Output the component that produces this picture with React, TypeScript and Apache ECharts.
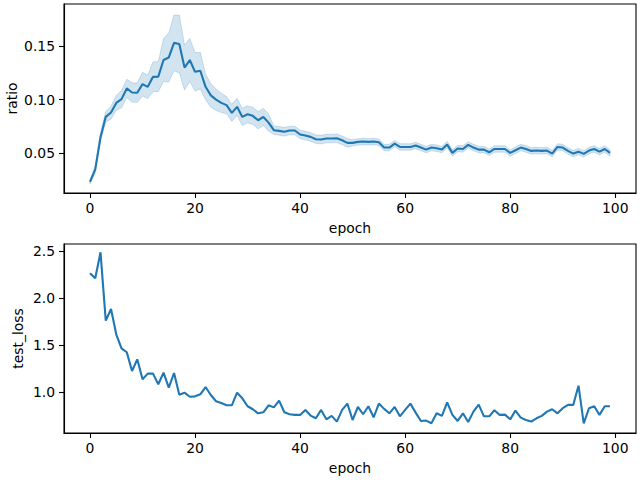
import React, { useEffect, useRef } from "react";
import * as echarts from "echarts";

const ratioMean = [
  0.0232, 0.035, 0.065, 0.084, 0.088, 0.097, 0.1005, 0.1105, 0.1067, 0.1065,
  0.1145, 0.112, 0.1213, 0.1215, 0.137, 0.1394, 0.153, 0.152, 0.13, 0.137,
  0.126, 0.127, 0.112, 0.104, 0.1, 0.097, 0.0949, 0.0877, 0.0933, 0.0839,
  0.0864, 0.0849, 0.0808, 0.0839, 0.0786, 0.0715, 0.0709, 0.07, 0.0712, 0.0712,
  0.0675, 0.0665, 0.0653, 0.0631, 0.0628, 0.0637, 0.0637, 0.064, 0.0621, 0.0597,
  0.0597, 0.0606, 0.061, 0.0606, 0.061, 0.0603, 0.0553, 0.0553, 0.059, 0.0559,
  0.0559, 0.0559, 0.0572, 0.0553, 0.0534, 0.0553, 0.0547, 0.0534, 0.0581, 0.0503,
  0.0544, 0.054, 0.0578, 0.0553, 0.0534, 0.0534, 0.0509, 0.054, 0.054, 0.054,
  0.0503, 0.0528, 0.0553, 0.054, 0.0522, 0.0525, 0.0522, 0.0525, 0.0497, 0.0559,
  0.0553, 0.0522, 0.0497, 0.0515, 0.0494, 0.0525, 0.054, 0.0515, 0.054, 0.0503,
];

const ratioCi = [
  0.002, 0.003, 0.004, 0.005, 0.006, 0.007, 0.008, 0.0085, 0.009, 0.009,
  0.011, 0.011, 0.014, 0.014, 0.02, 0.023, 0.026, 0.027, 0.021, 0.02,
  0.018, 0.017, 0.012, 0.011, 0.01, 0.009, 0.008, 0.008, 0.008, 0.008,
  0.008, 0.008, 0.008, 0.008, 0.008, 0.004, 0.004, 0.004, 0.004, 0.004,
  0.004, 0.004, 0.004, 0.004, 0.004, 0.004, 0.004, 0.004, 0.004, 0.004,
  0.003, 0.003, 0.003, 0.003, 0.003, 0.003, 0.003, 0.003, 0.003, 0.003,
  0.003, 0.003, 0.003, 0.003, 0.003, 0.003, 0.003, 0.003, 0.003, 0.003,
  0.003, 0.003, 0.003, 0.003, 0.003, 0.003, 0.003, 0.003, 0.003, 0.003,
  0.003, 0.003, 0.003, 0.003, 0.003, 0.003, 0.003, 0.003, 0.003, 0.003,
  0.003, 0.003, 0.003, 0.003, 0.003, 0.003, 0.003, 0.003, 0.003, 0.003,
];

const testLoss = [
  2.263, 2.21, 2.486, 1.76, 1.884, 1.616, 1.467, 1.425, 1.226, 1.35,
  1.138, 1.198, 1.198, 1.085, 1.208, 1.049, 1.205, 0.975, 0.996, 0.953,
  0.957, 0.979, 1.056, 0.971, 0.905, 0.887, 0.862, 0.862, 0.996, 0.936,
  0.852, 0.82, 0.777, 0.788, 0.862, 0.84, 0.911, 0.788, 0.767, 0.76,
  0.76, 0.813, 0.753, 0.724, 0.813, 0.713, 0.75, 0.689, 0.813, 0.88,
  0.706, 0.845, 0.767, 0.852, 0.735, 0.88, 0.824, 0.777, 0.845, 0.745,
  0.813, 0.88, 0.784, 0.696, 0.7, 0.671, 0.777, 0.75, 0.894, 0.76,
  0.696, 0.777, 0.685, 0.795, 0.869, 0.745, 0.745, 0.81, 0.76, 0.763,
  0.713, 0.806, 0.731, 0.706, 0.689, 0.724, 0.75, 0.795, 0.82, 0.777,
  0.831, 0.866, 0.866, 1.07, 0.671, 0.831, 0.852, 0.76, 0.852, 0.852,
];

const xTicks = [0, 20, 40, 60, 80, 100];
const ratioTicks = [0.05, 0.1, 0.15];
const lossTicks = [1.0, 1.5, 2.0, 2.5];

const BLUE = "#1f77b4";
const FONT = "DejaVu Sans";
const FS = 13.9;

export default function App() {
  const ref = useRef<HTMLDivElement>(null);
  useEffect(() => {
    if (!ref.current) return;
    const chart = echarts.init(ref.current, undefined, { renderer: "svg" });
    const epochs = ratioMean.map((_, i) => i);
    const band = epochs.map((i) => [i, ratioMean[i] - ratioCi[i], ratioMean[i] + ratioCi[i]]);
    const mean = epochs.map((i) => [i, ratioMean[i]]);
    const loss = testLoss.map((v, i) => [i, v]);

    const axisCommon = {
      axisLine: { show: true, onZero: false, lineStyle: { color: "#000", width: 1.1 } },
      axisTick: { show: true, inside: false, length: 5, lineStyle: { color: "#000", width: 1.1 } },
      splitLine: { show: false },
      nameMoveOverlap: false,
      nameTextStyle: { color: "#000", fontFamily: FONT, fontSize: FS },
    };
    const mkX = (gridIndex: number) => ({
      ...axisCommon,
      type: "value",
      gridIndex,
      min: -4.95,
      max: 103.95,
      name: "epoch",
      nameLocation: "middle",
      nameGap: 28,
      axisTick: { ...axisCommon.axisTick, customValues: xTicks },
      axisLabel: {
        customValues: xTicks,
        color: "#000",
        fontFamily: FONT,
        fontSize: FS,
        margin: 8,
      },
    });

    const gridCommon = {
      left: 64,
      width: 572,
      height: 189,
      show: true,
      borderColor: "#000",
      borderWidth: 1.1,
      backgroundColor: "transparent",
      containLabel: false,
      outerBoundsMode: "none",
    };

    chart.setOption({
      animation: false,
      grid: [
        { ...gridCommon, top: 4 },
        { ...gridCommon, top: 244 },
      ],
      xAxis: [mkX(0), mkX(1)],
      yAxis: [
        {
          ...axisCommon,
          type: "value",
          gridIndex: 0,
          min: 0.0129,
          max: 0.1893,
          name: "ratio",
          nameLocation: "middle",
          nameRotate: 90,
          nameGap: 45,
          axisTick: { ...axisCommon.axisTick, customValues: ratioTicks },
          axisLabel: {
            customValues: ratioTicks,
            formatter: (v: number) => v.toFixed(2),
            color: "#000",
            fontFamily: FONT,
            fontSize: FS,
            margin: 9,
          },
        },
        {
          ...axisCommon,
          type: "value",
          gridIndex: 1,
          min: 0.568,
          max: 2.574,
          name: "test_loss",
          nameLocation: "middle",
          nameRotate: 90,
          nameGap: 39,
          axisTick: { ...axisCommon.axisTick, customValues: lossTicks },
          axisLabel: {
            customValues: lossTicks,
            formatter: (v: number) => v.toFixed(1),
            color: "#000",
            fontFamily: FONT,
            fontSize: FS,
            margin: 9,
          },
        },
      ],
      series: [
        {
          type: "custom",
          xAxisIndex: 0,
          yAxisIndex: 0,
          data: band,
          encode: { x: 0, y: [1, 2] },
          silent: true,
          renderItem: (params: any, api: any) => {
            if (params.dataIndex !== 0) return null;
            const upper = band.map((d) => api.coord([d[0], d[2]]));
            const lowerPts = band.map((d) => api.coord([d[0], d[1]])).reverse();
            return {
              type: "polygon",
              shape: { points: upper.concat(lowerPts) },
              style: {
                fill: "rgba(31,119,180,0.2)",
                stroke: "rgba(31,119,180,0.2)",
                lineWidth: 1,
              },
            };
          },
        },
        {
          type: "line",
          xAxisIndex: 0,
          yAxisIndex: 0,
          data: mean,
          symbol: "none",
          lineStyle: { color: BLUE, width: 2.1 },
        },
        {
          type: "line",
          xAxisIndex: 1,
          yAxisIndex: 1,
          data: loss,
          symbol: "none",
          lineStyle: { color: BLUE, width: 2.1 },
        },
      ],
    });
    return () => chart.dispose();
  }, []);
  return (
    <div
      ref={ref}
      style={{ position: "fixed", left: 0, top: 0, width: 640, height: 480, background: "#fff" }}
    />
  );
}
